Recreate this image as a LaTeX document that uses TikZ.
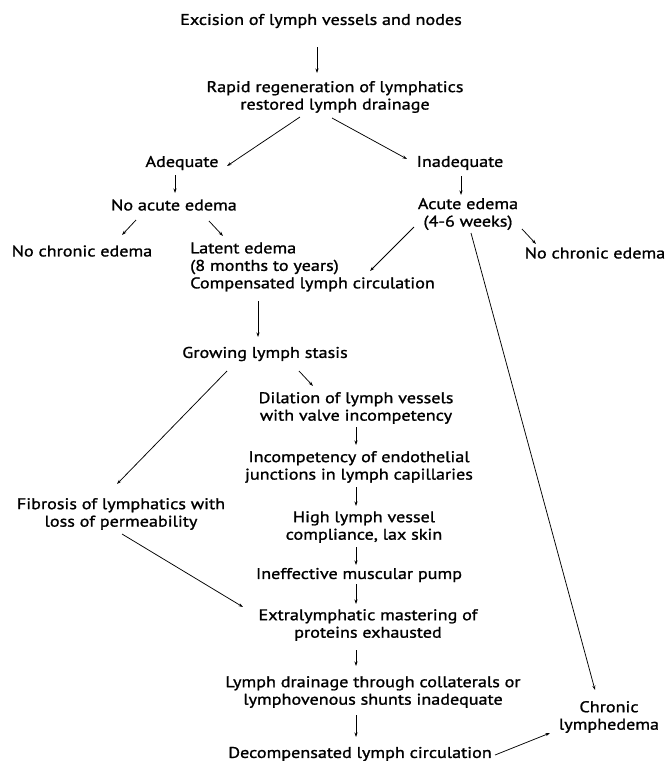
\documentclass[tikz,border=0pt]{standalone}
\usepackage{fontspec}
\setmainfont{PT Sans}[FakeStretch=1.17, FakeBold=1.2]
\usetikzlibrary{arrows.meta}
\begin{document}
\begin{tikzpicture}[x=1pt,y=-1pt,
  lbl/.style={inner sep=0pt, align=center, font=\fontsize{15.5}{17.5}\selectfont},
  arr/.style={line width=0.75pt, -{Stealth[length=4.5pt,width=3pt]}}]
\useasboundingbox (0,0) rectangle (668,761);
% nodes
\node[lbl] (exc) at (321,21) {Excision of lymph vessels and nodes};
\node[lbl] (rapid) at (335,97) {Rapid regeneration of lymphatics\\restored lymph drainage};
\node[lbl] (adeq) at (182,163) {Adequate};
\node[lbl] (inadeq) at (460,163) {Inadequate};
\node[lbl] (noacute) at (174,205) {No acute edema};
\node[lbl] (acute) at (468,214) {Acute edema\\(4-6 weeks)};
\node[lbl] (nochronL) at (82,251) {No chronic edema};
\node[lbl, align=left, anchor=west] (latent) at (190,267) {Latent edema\\(8 months to years)\\Compensated lymph circulation};
\node[lbl] (nochronR) at (595,253) {No chronic edema};
\node[lbl] (growing) at (265,354) {Growing lymph stasis};
\node[lbl] (dilation) at (356,408) {Dilation of lymph vessels\\with valve incompetency};
\node[lbl] (incomp) at (359,467) {Incompetency of endothelial\\junctions in lymph capillaries};
\node[lbl] (fibrosis) at (121,514) {Fibrosis of lymphatics with\\loss of permeability};
\node[lbl] (high) at (364,527) {High lymph vessel\\compliance, lax skin};
\node[lbl] (ineff) at (359,575) {Ineffective muscular pump};
\node[lbl] (extra) at (368,625) {Extralymphatic mastering of\\proteins exhausted};
\node[lbl] (drainage) at (373,692) {Lymph drainage through collaterals or\\lymphovenous shunts inadequate};
\node[lbl] (decomp) at (360,754) {Decompensated lymph circulation};
\node[lbl] (chronic) at (609,717) {Chronic\\lymphedema};
% connectors
\draw[arr] ([shift={(-4,26)}]exc.center) -- ([shift={(-18,-24)}]rapid.center);
\draw[arr] ([shift={(-35,20)}]rapid.center) -- ([shift={(45,3)}]adeq.center);
\draw[arr] ([shift={(-3,21)}]rapid.center) -- ([shift={(-53,-4)}]inadeq.center);
\draw[arr] ([shift={(-7,12)}]adeq.center) -- ([shift={(1,-12)}]noacute.center);
\draw[arr] ([shift={(1,13)}]inadeq.center) -- ([shift={(-7,-19)}]acute.center);
\draw[arr] ([shift={(-38,15)}]noacute.center) -- ([shift={(40,-16)}]nochronL.center);
\draw[arr] ([shift={(35,16)}]noacute.center) -- ([shift={(33,-31)}]latent.west);
\draw[arr] ([shift={(-54,13)}]acute.center) -- ([shift={(180,4)}]latent.west);
\draw[arr] ([shift={(54,15)}]acute.center) -- ([shift={(-59,-9)}]nochronR.center);
\draw[arr] ([shift={(3,19)}]acute.center) -- ([shift={(-14,-27)}]chronic.center);
\draw[arr] ([shift={(68,34)}]latent.west) -- ([shift={(-7,-17)}]growing.center);
\draw[arr] ([shift={(-38,17)}]growing.center) -- ([shift={(-4,-30)}]fibrosis.center);
\draw[arr] ([shift={(34,17)}]growing.center) -- ([shift={(-43,-22)}]dilation.center);
\draw[arr] ([shift={(0,19)}]dilation.center) -- ([shift={(-3,-22)}]incomp.center);
\draw[arr] ([shift={(-3,20)}]incomp.center) -- ([shift={(-8,-21)}]high.center);
\draw[arr] ([shift={(-8,20)}]high.center) -- ([shift={(-3,-10)}]ineff.center);
\draw[arr] ([shift={(-3,9)}]ineff.center) -- ([shift={(-12,-21)}]extra.center);
\draw[arr] ([shift={(1,20)}]fibrosis.center) -- ([shift={(-125,-18)}]extra.center);
\draw[arr] ([shift={(-12,25)}]extra.center) -- ([shift={(-17,-26)}]drainage.center);
\draw[arr] ([shift={(-17,23)}]drainage.center) -- ([shift={(-4,-17)}]decomp.center);
\draw[arr] ([shift={(135,1)}]decomp.center) -- ([shift={(-59,16)}]chronic.center);
\end{tikzpicture}
\end{document}
